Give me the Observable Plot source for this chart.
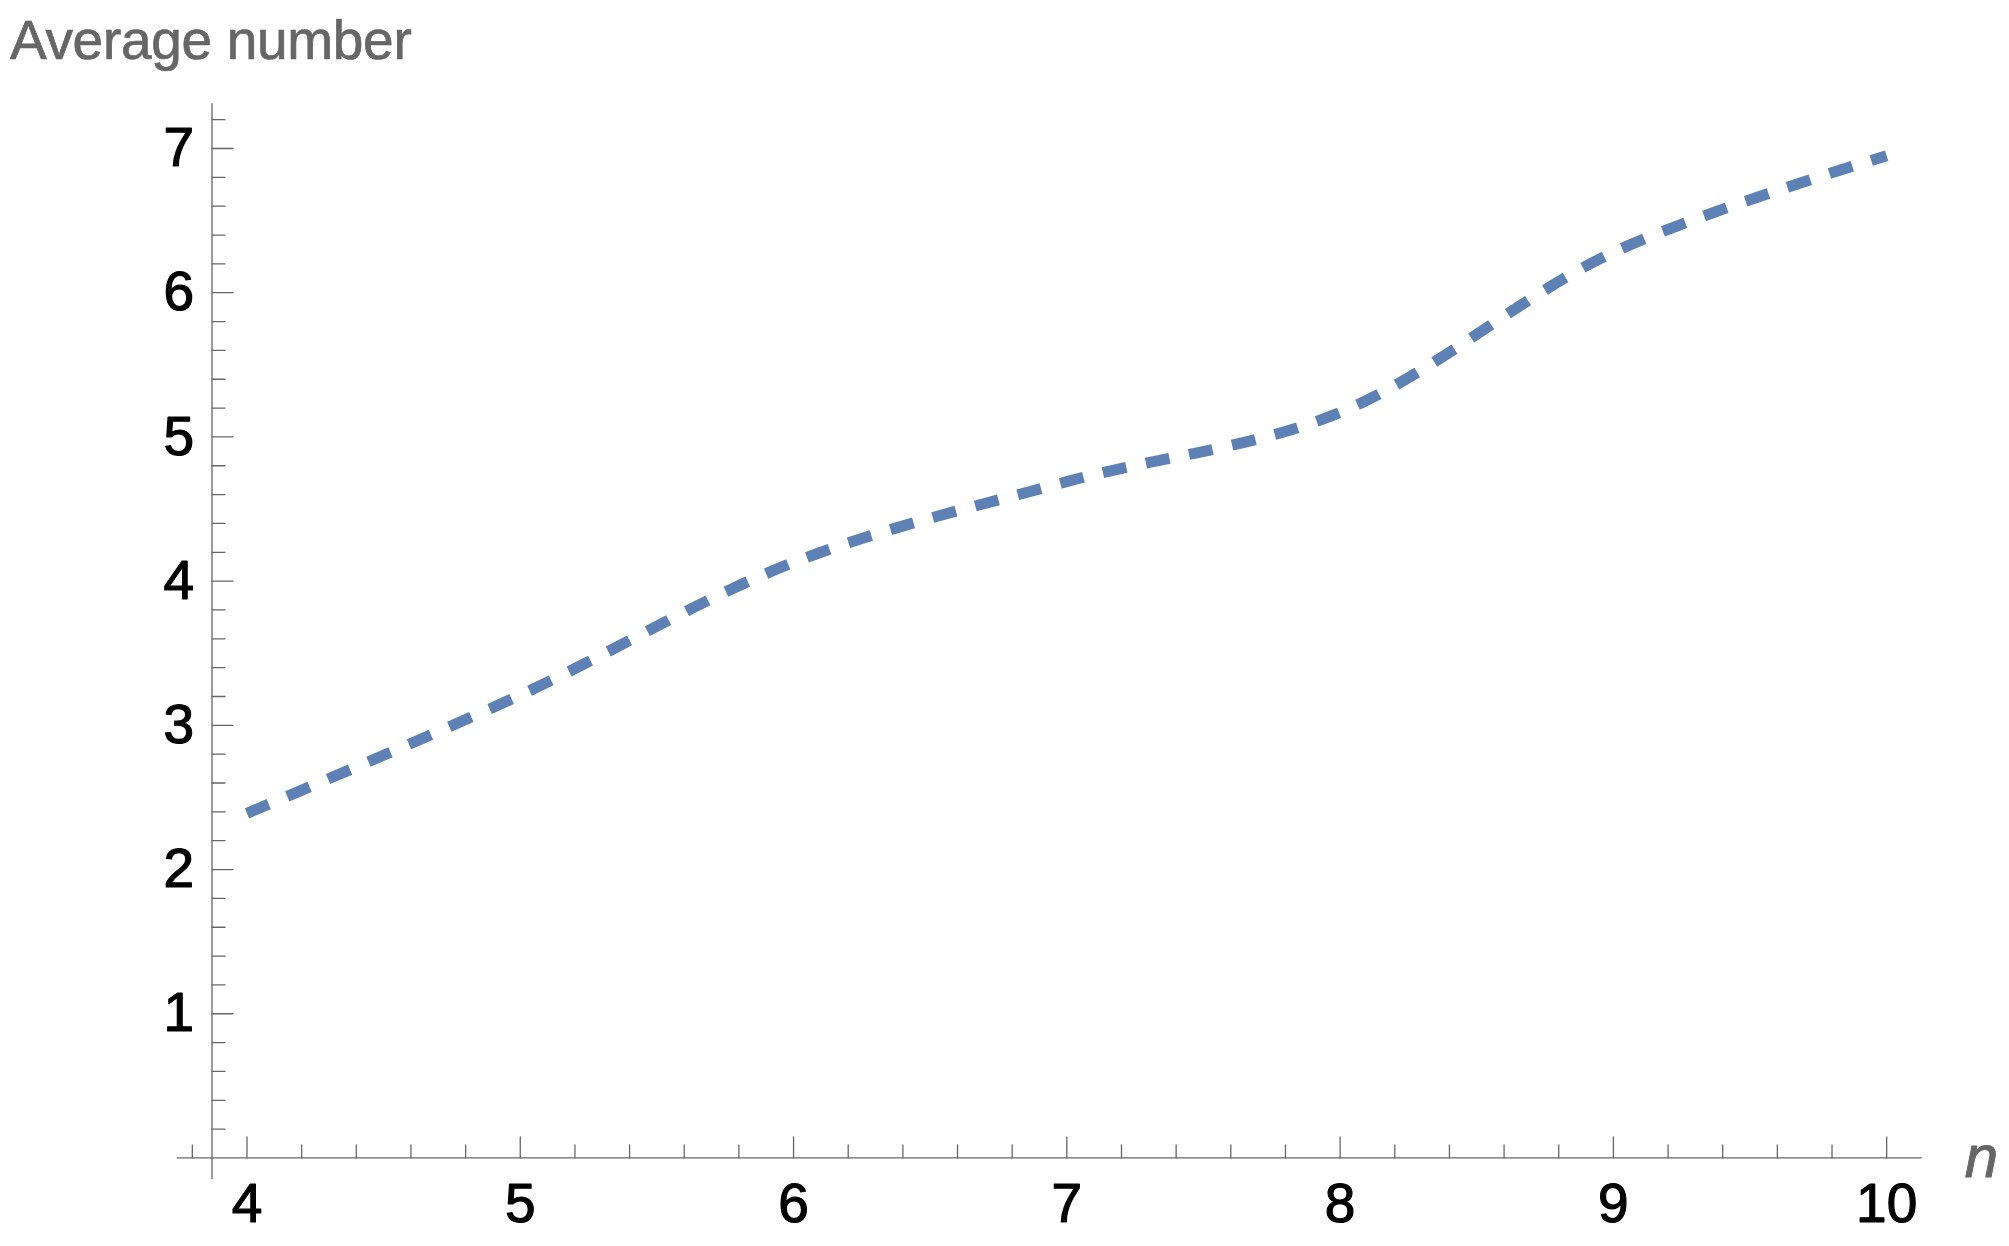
<!DOCTYPE html>
<html>
<head>
<meta charset="utf-8">
<script src="https://cdn.jsdelivr.net/npm/d3@7"></script>
<script src="https://cdn.jsdelivr.net/npm/@observablehq/plot@0.6"></script>
<style>
  html, body { margin: 0; padding: 0; background: #fff; overflow: hidden; }
  #title {
    font-family: "Liberation Sans", Arial, sans-serif;
    font-size: 55px; line-height: 70px; color: #666;
    -webkit-text-stroke: 0.7px #666;
    letter-spacing: -0.3px;
    padding: 5px 0 5px 10px; height: 70px; white-space: nowrap;
  }
  #chart svg { display: block; }
</style>
</head>
<body>
<div id="title">Average number</div>
<div id="chart"></div>
<script>
// Data
const nValues = [4, 5, 6, 7, 8, 9, 10];
const avgValues = [2.39, 3.21, 4.13, 4.69, 5.17, 6.28, 6.95];
const xTickLabels = [4, 5, 6, 7, 8, 9, 10];
const yTickLabels = [1, 2, 3, 4, 5, 6, 7];
const xAxisTitle = "n";

const data = nValues.map((n, i) => ({n, avg: avgValues[i]}));

const Y_AXIS_AT = 3.872; // x value where the vertical axis crosses
const round1 = v => Math.round(v * 10) / 10;
const xTicksAll = d3.range(19, 51).map(k => round1(k * 0.2));   // 3.8 .. 10
const yTicksAll = d3.range(1, 37).map(k => round1(k * 0.2));    // 0.2 .. 7.2
const xMinor = xTicksAll.filter(v => !Number.isInteger(v));
const xMajor = xTicksAll.filter(v => Number.isInteger(v));
const yMinor = yTicksAll.filter(v => !Number.isInteger(v));
const yMajor = yTicksAll.filter(v => Number.isInteger(v));

const tickShape = {draw(context, l) { context.moveTo(0, 0); context.lineTo(0, -l); }};
const axisColor = "#666666";

const chart = Plot.plot({
  width: 2009,
  height: 1166,
  marginLeft: 176.8,
  marginRight: 87.3,
  marginTop: 23.3,
  marginBottom: 66.9,
  x: {domain: [3.745, 10.13], axis: null},
  y: {domain: [-0.15, 7.31], axis: null},
  style: {fontFamily: "'Liberation Sans', Arial, sans-serif", background: "#fff", overflow: "visible"},
  marks: [
    Plot.ruleX([Y_AXIS_AT], {stroke: axisColor, strokeWidth: 1.3}),
    Plot.ruleY([0], {stroke: axisColor, strokeWidth: 1.3}),
    Plot.vector(yMinor, {x: () => Y_AXIS_AT, y: d => d, length: 13, rotate: 90, anchor: "start", shape: tickShape, stroke: axisColor, strokeWidth: 1.3}),
    Plot.vector(yMajor, {x: () => Y_AXIS_AT, y: d => d, length: 21, rotate: 90, anchor: "start", shape: tickShape, stroke: axisColor, strokeWidth: 1.3}),
    Plot.vector(xMinor, {x: d => d, y: () => 0, length: 13, rotate: 0, anchor: "start", shape: tickShape, stroke: axisColor, strokeWidth: 1.3}),
    Plot.vector(xMajor, {x: d => d, y: () => 0, length: 21, rotate: 0, anchor: "start", shape: tickShape, stroke: axisColor, strokeWidth: 1.3}),
    Plot.text(yTickLabels, {x: () => Y_AXIS_AT, y: d => d, text: d => String(d), textAnchor: "end", dx: -18, fontSize: 55, fill: "#000", stroke: "#000", strokeWidth: 1.2}),
    Plot.text(xTickLabels, {x: d => d, y: () => 0, text: d => String(d), lineAnchor: "top", dy: 25, fontSize: 55, fill: "#000", stroke: "#000", strokeWidth: 1.2}),
    Plot.text([xAxisTitle], {frameAnchor: "right", y: () => 0, text: d => d, dx: 76, fontSize: 60, fontStyle: "italic", fill: axisColor, stroke: axisColor, strokeWidth: 1}),
    Plot.line(data, {x: "n", y: "avg", curve: "catmull-rom", stroke: "#5E81B5", strokeWidth: 11, strokeDasharray: "24,20", strokeLinecap: "butt"})
  ]
});
document.getElementById("chart").appendChild(chart);
</script>
</body>
</html>
